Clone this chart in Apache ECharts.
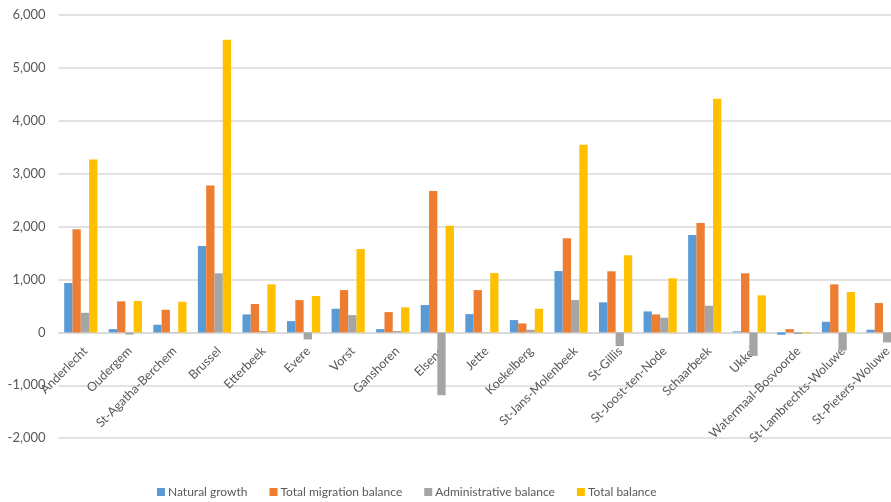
<!DOCTYPE html>
<html>
<head>
<meta charset="utf-8">
<script src="https://cdn.jsdelivr.net/npm/echarts@6/dist/echarts.min.js"></script>
<style>
html,body{margin:0;padding:0;background:#fff;}
#chart{width:891px;height:502px;}
</style>
</head>
<body>
<div id="chart"></div>
<script>
var categories = ["Anderlecht","Oudergem","St-Agatha-Berchem","Brussel","Etterbeek","Evere","Vorst","Ganshoren","Elsene","Jette","Koekelberg","St-Jans-Molenbeek","St-Gillis","St-Joost-ten-Node","Schaarbeek","Ukkel","Watermaal-Bosvoorde","St-Lambrechts-Woluwe","St-Pieters-Woluwe"];
var naturalGrowth = [933, 62, 144, 1634, 340, 214, 447, 62, 517, 346, 233, 1160, 568, 397, 1842, 19, -45, 201, 50];
var migrationBalance = [1950, 587, 428, 2775, 536, 611, 800, 384, 2675, 800, 170, 1779, 1155, 340, 2069, 1117, 62, 908, 555];
var administrativeBalance = [371, -40, 8, 1117, 25, -133, 327, 25, -1187, -5, 50, 611, -259, 277, 504, -443, -30, -341, -189];
var totalBalance = [3267, 593, 580, 5533, 908, 687, 1577, 473, 2018, 1122, 447, 3545, 1457, 1022, 4416, 700, -15, 763, 416];
var seriesNames = ["Natural growth","Total migration balance","Administrative balance","Total balance"];
var colors = ["#5B9BD5","#ED7D31","#A5A5A5","#FFC000"];
var yTicks = {min: -2000, max: 6000, interval: 1000};

var font = "Lato, 'Open Sans', sans-serif";
var gridTop = 15, gridBottom = 63.8, H = 502;
var plotH = H - gridTop - gridBottom;
var zeroOffset = -plotH * (0 - yTicks.min) / (yTicks.max - yTicks.min);
var chart = echarts.init(document.getElementById('chart'), null, {renderer:'canvas'});
var data = [naturalGrowth, migrationBalance, administrativeBalance, totalBalance];
chart.setOption({
  animation: false,
  color: colors,
  grid: {left: 58.5, right: -14.3, top: gridTop, bottom: gridBottom, containLabel: false, outerBoundsMode: 'none'},
  legend: {
    left: 157, top: 486, padding: 0,
    itemWidth: 8, itemHeight: 8, itemGap: 22,
    icon: 'rect',
    textStyle: {fontFamily: font, fontSize: 12, color: '#595959', padding: [0,0,0,-2]},
    data: seriesNames
  },
  xAxis: {
    type: 'category',
    data: categories,
    offset: zeroOffset,
    axisLine: {show: true, onZero: false, lineStyle: {color: '#d9d9d9', width: 1.5}},
    axisTick: {show: false},
    axisLabel: {interval: 0, rotate: 45, margin: 12, verticalAlign: 'top', align: 'right',
      fontFamily: font, fontSize: 12.5, color: '#595959', hideOverlap: false},
    splitLine: {show: false}
  },
  yAxis: {
    type: 'value',
    min: yTicks.min, max: yTicks.max, interval: yTicks.interval,
    axisLine: {show: false},
    axisTick: {show: false},
    axisLabel: {margin: 13, fontFamily: font, fontSize: 13, color: '#595959',
      formatter: function(v){ return v.toLocaleString('en-US'); }},
    splitLine: {lineStyle: {color: '#d9d9d9', width: 1.5}}
  },
  series: seriesNames.map(function(n, i){
    return {name: n, type: 'bar', data: data[i], barWidth: 8.3, barGap: '0%'};
  })
});
</script>
</body>
</html>
